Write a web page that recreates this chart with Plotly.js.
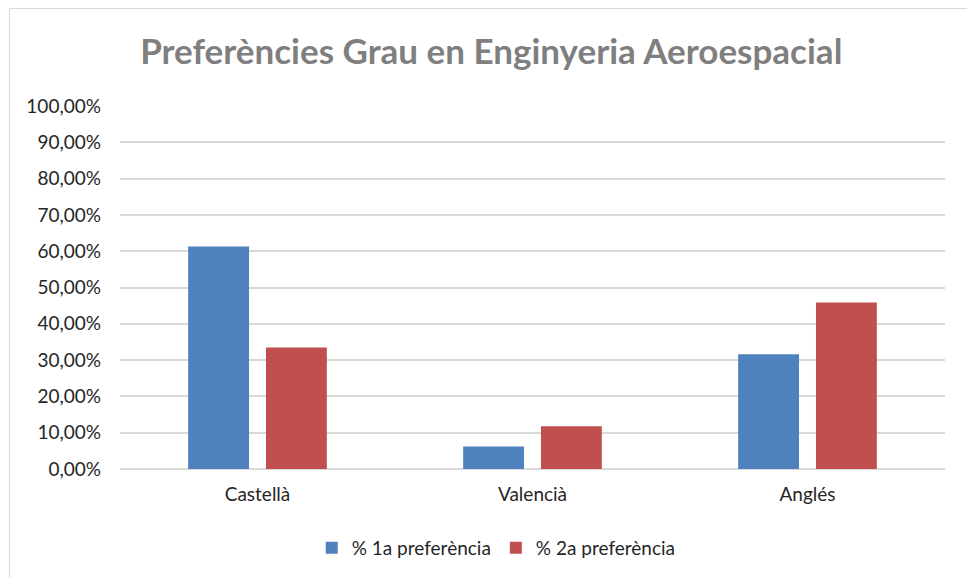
<!DOCTYPE html>
<html>
<head>
<meta charset="utf-8">
<script src="https://cdn.plot.ly/plotly-3.0.1.min.js"></script>
<style>
html,body{margin:0;padding:0;background:#fff;}
#wrap{position:relative;width:967px;height:578px;overflow:hidden;}
#chart{position:absolute;left:0;top:0;width:967px;height:578px;}
#frame{position:absolute;left:9px;top:8px;width:1000px;height:600px;border:1px solid #d9d9d9;pointer-events:none;}
</style>
</head>
<body>
<div id="wrap"><div id="chart"></div><div id="frame"></div></div>
<script>
const categories = ["Castellà", "Valencià", "Anglés"];
const pref1 = [0.613, 0.062, 0.316];
const pref2 = [0.335, 0.118, 0.459];
const seriesNames = ["% 1a preferència", "% 2a preferència"];
const tickValues = [0, 0.1, 0.2, 0.3, 0.4, 0.5, 0.6, 0.7, 0.8, 0.9, 1.0];

const font = "Lato, 'Open Sans', sans-serif";
const traces = [
  {type: "bar", x: categories, y: pref1, name: seriesNames[0],
   marker: {color: "#4f81bd", line: {width: 0}}, hoverinfo: "skip"},
  {type: "bar", x: categories, y: pref2, name: seriesNames[1],
   marker: {color: "#c0504d", line: {width: 0}}, hoverinfo: "skip"}
];
const layout = {
  width: 967, height: 578,
  margin: {l: 120, r: 22, t: 106, b: 108},
  paper_bgcolor: "#fff", plot_bgcolor: "#fff",
  separators: ",.",
  font: {family: font, size: 19, color: "#262626"},
  title: {text: "<b>Preferències Grau en Enginyeria Aeroespacial</b>",
          font: {family: font, size: 35, color: "#7f7f7f"},
          x: 0.508, xanchor: "center", y: 0.91, yanchor: "middle"},
  barmode: "group", bargap: 0.434, bargroupgap: 0.218,
  xaxis: {showgrid: false, showline: false, ticks: "", zeroline: false,
          tickfont: {family: font, size: 19, color: "#262626"}, ticklabelstandoff: 12},
  yaxis: {range: [0, 1.0], tickvals: tickValues, tickformat: ".2%",
          showgrid: true, gridcolor: "#d9d9d9", gridwidth: 2,
          zeroline: true, zerolinecolor: "#d9d9d9", zerolinewidth: 2,
          showline: false, ticks: "", ticklabelstandoff: 18,
          tickfont: {family: font, size: 19, color: "#262626"}},
  legend: {orientation: "h", x: 0.456, xanchor: "center", y: -0.214, yanchor: "middle",
           font: {family: font, size: 19, color: "#262626"}, itemwidth: 30, traceorder: "normal"},
  showlegend: true
};
Plotly.newPlot("chart", traces, layout, {staticPlot: true, displayModeBar: false});
</script>
</body>
</html>
